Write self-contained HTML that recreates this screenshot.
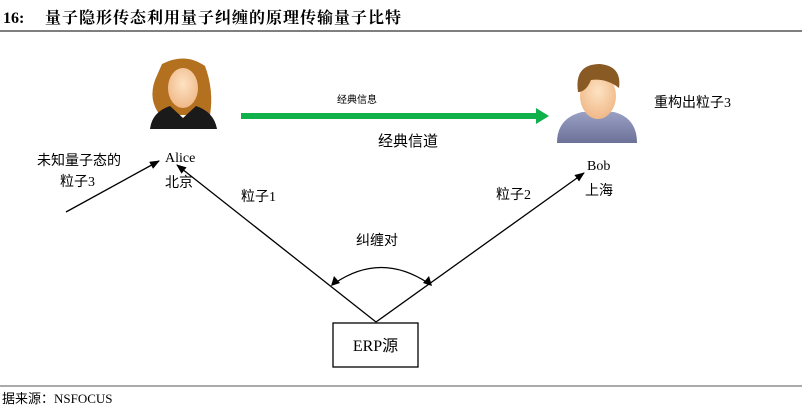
<!DOCTYPE html>
<html><head><meta charset="utf-8"><style>
body{margin:0;width:802px;height:419px;background:#fff;overflow:hidden;font-family:"Liberation Serif","Noto Serif CJK SC",serif;}
svg{position:absolute;left:0;top:0}
text{font-family:"Liberation Serif","Noto Sans CJK SC",serif;}
</style></head><body>
<svg width="802" height="419" viewBox="0 0 802 419">
<defs>
<marker id="ah" markerWidth="10" markerHeight="8" refX="9" refY="4" orient="auto" markerUnits="userSpaceOnUse"><path d="M0,0 L10,4 L0,8 Z" fill="#000"/></marker>
<radialGradient id="face" cx="50%" cy="40%" r="60%"><stop offset="0" stop-color="#fde3c3"/><stop offset="1" stop-color="#f0b888"/></radialGradient>
<linearGradient id="bobb" x1="0" y1="0" x2="0" y2="1"><stop offset="0" stop-color="#9aa0c4"/><stop offset="1" stop-color="#6c7198"/></linearGradient>
</defs>
<text x="3" y="23" font-size="16" font-weight="bold" style="font-family:'Liberation Serif',serif">16:</text>
<text x="45" y="23" font-size="16" font-weight="bold" letter-spacing="1" style="font-family:'Noto Serif CJK SC',serif">量子隐形传态利用量子纠缠的原理传输量子比特</text>
<line x1="0" y1="31" x2="802" y2="31" stroke="#555" stroke-width="1.5"/>
<!-- Alice -->
<path d="M162,64 Q185,52 205,66 Q214,90 210,115 L160,115 Q148,100 155,80 Z" fill="#b3701f"/>
<ellipse cx="183" cy="88" rx="15" ry="20" fill="url(#face)"/>
<path d="M150,129 Q152,112 170,106 L183,118 L196,106 Q214,112 217,129 Z" fill="#1a1a1a"/>
<!-- Bob -->
<path d="M557,143 Q557,118 582,112 L614,112 Q637,118 637,143 Z" fill="url(#bobb)"/>
<ellipse cx="598" cy="96" rx="18" ry="23" fill="url(#face)"/>
<path d="M578,92 Q574,64 600,64 Q622,66 619,88 Q606,78 591,80 Q586,92 578,92 Z" fill="#8a5a25"/>
<!-- green arrow -->
<line x1="241" y1="116" x2="538" y2="116" stroke="#10b04a" stroke-width="6"/>
<path d="M536,108 L549,116 L536,124 Z" fill="#10b04a"/>
<text x="337" y="103" font-size="10">经典信息</text>
<text x="378" y="146" font-size="15">经典信道</text>
<text x="654" y="107" font-size="14">重构出粒子3</text>
<text x="37" y="165" font-size="14">未知量子态的</text>
<text x="60" y="186" font-size="14">粒子3</text>
<text x="165" y="162" font-size="14">Alice</text>
<text x="165" y="187" font-size="14">北京</text>
<text x="587" y="170" font-size="14">Bob</text>
<text x="585" y="195" font-size="14">上海</text>
<text x="241" y="201" font-size="14">粒子1</text>
<text x="496" y="199" font-size="14">粒子2</text>
<text x="356" y="245" font-size="14">纠缠对</text>
<line x1="66" y1="212" x2="159" y2="161" stroke="#000" stroke-width="1.3" marker-end="url(#ah)"/>
<line x1="376" y1="322" x2="177" y2="165" stroke="#000" stroke-width="1.3" marker-end="url(#ah)"/>
<line x1="376" y1="322" x2="584" y2="173" stroke="#000" stroke-width="1.3" marker-end="url(#ah)"/>
<path d="M335,283 Q381,252 428,283" fill="none" stroke="#000" stroke-width="1.3"/>
<path d="M331,286 L334,276 L340,283 Z" fill="#000"/>
<path d="M432,286 L429,276 L423,283 Z" fill="#000"/>
<rect x="333" y="323" width="85" height="44" fill="#fff" stroke="#000" stroke-width="1.3"/>
<text x="375.5" y="351" font-size="16" text-anchor="middle">ERP源</text>
<line x1="0" y1="386" x2="802" y2="386" stroke="#555" stroke-width="1"/>
<text x="2" y="403" font-size="13">据来源：NSFOCUS</text>
</svg>
</body></html>
